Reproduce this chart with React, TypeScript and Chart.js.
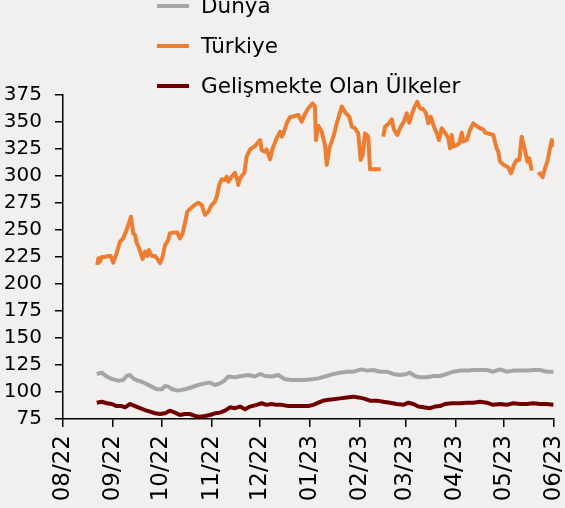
import React, { useEffect, useRef } from "react";
import { Chart, registerables } from "chart.js";

Chart.register(...registerables);

// Day offsets from 2022-08-01 for month starts
const monthDays = [0, 31, 61, 92, 122, 153, 184, 212, 243, 273, 304];
const monthLabels = ["08/22", "09/22", "10/22", "11/22", "12/22", "01/23", "02/23", "03/23", "04/23", "05/23", "06/23"];

const yMin = 75;
const yMax = 375;
const yStep = 25;

const seriesNames = ["Dünya", "Türkiye", "Gelişmekte Olan Ülkeler"];
const seriesColors = ["#a5a5a5", "#ed7d31", "#700000"];

const turkiyeDays = [
  21.2, 21.9, 22.9, 24.0, 26.0, 28.0, 29.5, 31.1, 33.2, 35.3, 37.3, 39.4, 42.1, 43.5, 44.6, 45.6, 47.2, 49.3, 50.8,
  52.2, 53.1, 54.9, 57.0, 58.6, 60.1, 61.7, 63.2, 65.2, 66.2, 68.3, 70.8, 72.4, 74.1, 75.5, 77.0, 79.7, 81.7, 83.8,
  85.9, 87.9, 90.0, 92.1, 94.1, 95.2, 96.8, 98.3, 100.3, 101.4, 102.4, 104.5, 106.5, 108.0, 108.5, 109.6, 112.3,
  113.7, 115.8, 118.9, 122.0, 123.0, 125.1, 126.1, 128.2, 129.8, 132.3, 134.4, 135.4, 136.4, 138.5, 140.5, 143.6,
  145.7, 147.8, 149.8, 151.9, 154.6, 156.0, 156.6, 158.1, 160.2, 162.2, 163.3, 164.9, 167.4, 169.8, 172.6, 175.2,
  177.3, 178.8, 180.8, 182.8, 184.3, 185.6, 187.0, 189.0, 190.1, 193.2, 196.7, 197.5, 198.3, 199.4, 202.0, 203.5,
  204.9, 207.0, 209.1, 211.1, 212.8, 214.4, 215.9, 217.3, 219.4, 221.0, 223.1, 224.8, 226.2, 227.7, 229.7, 231.4,
  232.8, 234.5, 236.5, 238.6, 239.6, 240.7, 241.7, 243.8, 245.4, 246.9, 247.9, 250.0, 252.0, 254.0, 256.1, 258.2,
  260.2, 261.3, 264.4, 266.4, 268.5, 269.5, 270.6, 273.0, 275.7, 277.4, 279.2, 280.9, 282.5, 284.0, 286.0, 287.5,
  288.7, 290.2, 292.0, 294.3, 295.3, 297.0, 298.4, 299.9, 301.1, 302.6, 304.0,
];
const turkiyeValues: (number | null)[] = [
  217.6, 223.8, 220.7, 225, 225, 226, 226, 219.7, 228.4, 239.2, 242.3, 250, 262.3, 247, 245.4, 238.3, 233, 223, 230,
  226, 231.5, 226, 226, 223, 219.2, 225.3, 236, 240.7, 247, 247.6, 247.6, 242.3, 247, 256.2, 267, 271, 273.2, 275.3,
  273.2, 264, 267, 273.2, 276.3, 280.8, 292, 297, 296.3, 299.4, 294.7, 299.4, 303, 296.3, 291.7, 297.9, 303,
  318, 324.7, 327.8, 333.3, 324, 322.5, 324.7, 315.5, 325.6, 335, 341, 336.4, 338.9, 348.8, 354.4, 355.6,
  356.5, 350.3, 357.4, 362.7, 367.3, 364.2, 333.3, 346.3, 341, 328.7, 310.2, 325.6, 336.4, 350.3, 364.2, 358,
  354.9, 345.7, 344.2, 339.5, 314.8, 319.4, 339.5, 336.4, 306.2, 306.2, 306.2, null, 336.4, 345.7, 348.8, 352.5,
  343.2, 338, 345.7, 350.3, 358, 349.4, 356.5, 362.7, 368.8, 362.7, 361.8, 358, 348.8, 354.9, 345.7, 339.5,
  333.3, 344.2, 340.2, 335, 325.6, 338, 327.2, 328.7, 330.3, 340.2, 331.9, 333.3, 342.6, 348.8, 346.3, 344.2,
  343.2, 340.2, 338.9, 338, 325.6, 322.5, 313.2, 310.2, 308, 302.5, 310.2, 314.8, 314.8, 336.4, 324, 313.2,
  316.4, 305, null, 300.9, 302.5, 298.9, 307.1, 313.2, 322.5, 333.3, 327.2,
];

const dunyaDays = [
  20.9, 24.0, 27.1, 30.2, 34.2, 37.3, 39.4, 41.5, 43.5, 46.3, 48.7, 51.8, 54.9, 58.0, 61.1, 63.2, 65.2, 67.7, 71.4,
  75.5, 79.7, 83.8, 87.9, 91.0, 94.1, 97.2, 99.9, 102.3, 106.5, 110.6, 114.7, 118.9, 122.0, 125.1, 129.2, 133.3,
  137.5, 141.6, 145.7, 149.8, 154.0, 158.1, 165.3, 167.4, 171.5, 175.7, 179.7, 184.9, 188.0, 192.1, 196.3, 200.4,
  204.5, 208.7, 212.8, 214.8, 217.9, 221.0, 225.2, 229.3, 233.4, 237.6, 241.7, 245.8, 250.0, 254.0, 258.2, 262.3,
  266.4, 270.6, 274.7, 278.8, 283.0, 287.1, 291.2, 295.3, 299.5, 303.6,
];
const dunyaValues = [
  116.7, 117.9, 114.3, 112, 110.5, 111.1, 114.8, 115.7, 112.6, 110.5, 109.5, 107.4, 105, 102.5, 102.5, 105.6, 105,
  102.5, 101.3, 102.5, 104.4, 106.5, 108, 108.7, 106.5, 108, 110.5, 114.3, 113.6, 114.8, 115.7, 114.3, 116.7, 114.8,
  114.3, 115.7, 111.7, 111.1, 111.1, 111.1, 111.7, 112.6, 115.7, 116.7, 117.9, 118.8, 118.8, 121, 119.8, 120.4,
  118.8, 118.8, 116.7, 115.7, 116.7, 117.9, 114.8, 113.6, 113.6, 114.8, 114.8, 116.7, 118.8, 119.8, 119.8, 120.4,
  120.4, 120.4, 118.8, 121, 118.8, 119.8, 119.8, 119.8, 120.4, 120.4, 118.8, 118.8,
];

const gelismekteDays = [
  20.9, 24.0, 27.1, 30.2, 33.2, 36.3, 38.4, 41.5, 44.6, 47.7, 50.8, 53.9, 57.0, 60.1, 63.2, 66.2, 69.3, 72.4, 75.5,
  78.6, 81.7, 84.8, 87.9, 91.0, 94.1, 97.2, 100.3, 103.4, 106.5, 109.6, 112.7, 115.8, 119.9, 123.0, 126.1, 129.2,
  132.3, 135.4, 139.5, 143.6, 147.8, 151.9, 155.0, 158.1, 161.2, 163.3, 167.4, 171.5, 175.7, 179.7, 182.8, 185.9,
  190.1, 194.2, 198.3, 202.5, 206.6, 210.7, 213.8, 216.9, 220.0, 223.1, 227.2, 230.3, 233.4, 236.5, 240.7, 245.8,
  250.0, 254.0, 258.2, 262.3, 266.4, 270.6, 274.7, 278.8, 283.0, 287.1, 291.2, 295.3, 299.5, 303.6,
];
const gelismekteValues = [
  90.1, 91, 89.6, 88.9, 87, 87, 85.8, 88.9, 87, 85, 83.3, 81.8, 80.3, 79.6, 80.3, 82.7, 80.9, 78.7, 79.6, 79.6, 77.8,
  77.2, 77.8, 78.7, 80.3, 80.9, 82.7, 85.8, 85, 86.5, 84.1, 86.5, 88.1, 89.6, 88.1, 88.9, 88.1, 88.1, 87, 87, 87, 87,
  88.1, 90.1, 92, 92.6, 93.2, 94.1, 95, 95.7, 95, 94.1, 92, 92, 91, 90.1, 88.9, 88.1, 90.1, 88.9, 86.5, 85.8, 85,
  86.5, 87, 88.9, 89.6, 89.6, 90.1, 90.1, 91, 90.1, 88.1, 88.9, 88.1, 89.6, 88.9, 88.9, 89.6, 88.9, 88.9, 88.1,
];

const FONT = "'DejaVu Sans', sans-serif";
const BG = "#f2f0ef";

const toPoints = (days: number[], vals: (number | null)[]) => days.map((d, i) => ({ x: d, y: vals[i] }));

const legendPlugin = {
  id: "customLegend",
  afterDraw(chart: any) {
    const { ctx, chartArea } = chart;
    const lineX0 = chartArea.left + 94;
    const lineX1 = chartArea.left + 126;
    const textX = chartArea.left + 138;
    const firstY = chartArea.top - 89;
    const gap = 40;
    ctx.save();
    ctx.font = `21.5px ${FONT}`;
    ctx.textBaseline = "middle";
    ctx.textAlign = "left";
    seriesNames.forEach((name, i) => {
      const y = firstY + i * gap;
      ctx.strokeStyle = seriesColors[i];
      ctx.lineWidth = 4;
      ctx.lineCap = "butt";
      ctx.beginPath();
      ctx.moveTo(lineX0, y);
      ctx.lineTo(lineX1, y);
      ctx.stroke();
      ctx.fillStyle = "#000";
      ctx.fillText(name, textX, y + 1);
    });
    ctx.restore();
  },
};

const bgPlugin = {
  id: "bg",
  beforeDraw(chart: any) {
    const { ctx, width, height } = chart;
    ctx.save();
    ctx.fillStyle = BG;
    ctx.fillRect(0, 0, width, height);
    ctx.restore();
  },
};

export default function App() {
  const ref = useRef<HTMLCanvasElement | null>(null);

  useEffect(() => {
    document.body.style.margin = "0";
    document.body.style.background = BG;
    const canvas = ref.current;
    if (!canvas) return;
    const zeroPad = (s: any) => {
      s.paddingTop = 0;
      s.paddingBottom = 0;
      s.paddingLeft = 0;
      s.paddingRight = 0;
    };
    const chart = new Chart(canvas, {
      type: "line",
      data: {
        datasets: [
          {
            label: seriesNames[0],
            data: toPoints(dunyaDays, dunyaValues),
            borderColor: seriesColors[0],
            borderWidth: 4,
            pointRadius: 0,
            tension: 0,
            borderJoinStyle: "round",
          },
          {
            label: seriesNames[2],
            data: toPoints(gelismekteDays, gelismekteValues),
            borderColor: seriesColors[2],
            borderWidth: 4,
            pointRadius: 0,
            tension: 0,
            borderJoinStyle: "round",
          },
          {
            label: seriesNames[1],
            data: toPoints(turkiyeDays, turkiyeValues),
            borderColor: seriesColors[1],
            borderWidth: 4,
            pointRadius: 0,
            tension: 0,
            spanGaps: false,
            borderJoinStyle: "round",
          },
        ],
      },
      options: {
        responsive: false,
        animation: false,
        devicePixelRatio: 1,
        layout: { padding: { top: 95, right: 11, left: 0, bottom: 0 } },
        plugins: { legend: { display: false }, tooltip: { enabled: false } },
        scales: {
          x: {
            type: "linear",
            min: monthDays[0],
            max: monthDays[monthDays.length - 1],
            afterBuildTicks: (scale: any) => {
              scale.ticks = monthDays.map((v) => ({ value: v }));
            },
            afterFit: (scale: any) => {
              scale.height = 89;
              zeroPad(scale);
            },
            ticks: {
              autoSkip: false,
              minRotation: 90,
              maxRotation: 90,
              padding: 8,
              color: "#000",
              font: { family: FONT, size: 23 },
              callback: (v: any) => {
                const i = monthDays.indexOf(Number(v));
                return i >= 0 ? monthLabels[i] : "";
              },
            },
            grid: { display: true, drawOnChartArea: false, drawTicks: true, tickLength: 8, color: "#000", lineWidth: 1.5 },
            border: { display: true, color: "#000", width: 1.5 },
          },
          y: {
            type: "linear",
            min: yMin,
            max: yMax,
            afterFit: (scale: any) => {
              scale.width = 63;
              zeroPad(scale);
            },
            ticks: {
              stepSize: yStep,
              padding: 13,
              color: "#000",
              font: { family: FONT, size: 20 },
            },
            grid: { display: true, drawOnChartArea: false, drawTicks: true, tickLength: 8, color: "#000", lineWidth: 1.5 },
            border: { display: true, color: "#000", width: 1.5 },
          },
        },
      },
      plugins: [bgPlugin, legendPlugin],
    });
    return () => chart.destroy();
  }, []);

  return (
    <div style={{ width: 565, height: 508, background: BG }}>
      <canvas ref={ref} width={565} height={508} style={{ display: "block", width: 565, height: 508 }} />
    </div>
  );
}
